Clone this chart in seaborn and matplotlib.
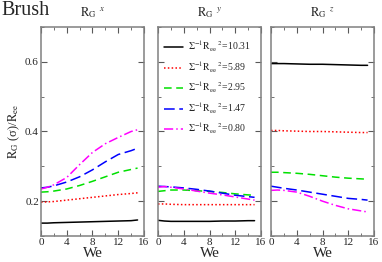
import numpy as np
import pandas as pd
import seaborn as sns
from matplotlib import pyplot as plt
from matplotlib.ticker import MultipleLocator

sns.set_style("ticks")
plt.rcParams['font.family'] = ['Liberation Serif', 'DejaVu Serif']
plt.rcParams['mathtext.fontset'] = 'stix'

we = [0, 1, 2, 4, 6, 8, 10, 12, 14, 15]

# grafting densities (legend values)
densities = ["10.31", "5.89", "2.95", "1.47", "0.80"]

# R_G^x / R_ee
rgx_1031 = [0.137, 0.137, 0.138, 0.139, 0.140, 0.141, 0.142, 0.143, 0.144, 0.146]
rgx_589 = [0.197, 0.198, 0.199, 0.203, 0.207, 0.211, 0.215, 0.219, 0.222, 0.224]
rgx_295 = [0.226, 0.227, 0.229, 0.235, 0.245, 0.257, 0.270, 0.283, 0.291, 0.295]
rgx_147 = [0.238, 0.240, 0.244, 0.255, 0.270, 0.290, 0.313, 0.334, 0.345, 0.352]
rgx_080 = [0.235, 0.240, 0.247, 0.268, 0.305, 0.340, 0.365, 0.383, 0.400, 0.405]

# R_G^y / R_ee
rgy_1031 = [0.145, 0.143, 0.142, 0.142, 0.142, 0.142, 0.143, 0.143, 0.144, 0.144]
rgy_589 = [0.192, 0.192, 0.191, 0.190, 0.190, 0.190, 0.190, 0.190, 0.190, 0.190]
rgy_295 = [0.228, 0.230, 0.232, 0.232, 0.230, 0.228, 0.225, 0.221, 0.218, 0.217]
rgy_147 = [0.243, 0.242, 0.241, 0.238, 0.234, 0.229, 0.223, 0.217, 0.213, 0.211]
rgy_080 = [0.240, 0.242, 0.240, 0.235, 0.229, 0.223, 0.218, 0.212, 0.206, 0.203]

# R_G^z / R_ee
rgz_1031 = [0.595, 0.595, 0.595, 0.594, 0.593, 0.593, 0.592, 0.591, 0.590, 0.590]
rgz_589 = [0.403, 0.403, 0.402, 0.401, 0.400, 0.400, 0.399, 0.398, 0.397, 0.397]
rgz_295 = [0.283, 0.283, 0.282, 0.280, 0.277, 0.273, 0.269, 0.266, 0.264, 0.263]
rgz_147 = [0.243, 0.240, 0.237, 0.232, 0.226, 0.220, 0.214, 0.208, 0.205, 0.203]
rgz_080 = [0.231, 0.232, 0.231, 0.226, 0.214, 0.200, 0.188, 0.178, 0.172, 0.169]

panels = [
    ("x", [rgx_1031, rgx_589, rgx_295, rgx_147, rgx_080]),
    ("y", [rgy_1031, rgy_589, rgy_295, rgy_147, rgy_080]),
    ("z", [rgz_1031, rgz_589, rgz_295, rgz_147, rgz_080]),
]

colors = ["black", "#ff0000", "#00e000", "#0000ff", "#ff00ff"]
styles = ["-", (0, (1, 1.5)), (0, (5, 3)), (0, (7, 3)), (0, (6, 2, 1, 2))]

fig = plt.figure(figsize=(3.82, 2.62), dpi=100)
lefts = [41, 158, 271]
axes = []
for i, (comp, series) in enumerate(panels):
    ax = fig.add_axes([lefts[i] / 382, 1 - 236 / 262, 103 / 382, 209 / 262])
    axes.append(ax)
    for vals, dens, c, ls in zip(series, densities, colors, styles):
        lab = r"$\Sigma^{-1}\mathrm{R_{ee}}^{\ 2}$=" + dens
        sns.lineplot(x=we, y=vals, ax=ax, color=c, linestyle=ls, linewidth=1.1, label=lab)
    ax.set_xlim(0, 16)
    ax.set_ylim(0.1, 0.7)
    ax.xaxis.set_major_locator(MultipleLocator(4))
    ax.xaxis.set_minor_locator(MultipleLocator(2))
    ax.yaxis.set_major_locator(MultipleLocator(0.2))
    ax.yaxis.set_minor_locator(MultipleLocator(0.1))
    ax.tick_params(which="both", direction="in", top=True, right=True,
                   labelsize=8, color="0.35", pad=1.5)
    ax.tick_params(which="major", length=4)
    ax.tick_params(which="minor", length=2.5)
    for s in ax.spines.values():
        s.set_color("0.5")
        s.set_linewidth(1.1)
    ax.set_xlabel("We", fontsize=11, labelpad=0)
    ax.set_title(r"$\mathrm{R_G}^{\ \ %s}$" % comp, fontsize=9, pad=8)
    if i > 0:
        ax.set_yticklabels([])
    if i != 1:
        ax.get_legend().remove()

axes[0].set_yticks([0.2, 0.4, 0.6])
axes[0].set_yticklabels(["0.2", "0.4", "0.6"])
axes[0].set_ylabel(r"$\mathrm{R_G}$ (σ)/$\mathrm{R_{ee}}$", fontsize=9, labelpad=2)

axes[1].legend(loc="upper left", bbox_to_anchor=(0.0, 0.97), frameon=False,
               fontsize=7, handlelength=2.0, labelspacing=0.55, handletextpad=0.5,
               borderaxespad=0.2)

fig.text(0.005, 0.995, "Brush", fontsize=14.5, va="top", ha="left")

fig.savefig("out.png", dpi=100)
